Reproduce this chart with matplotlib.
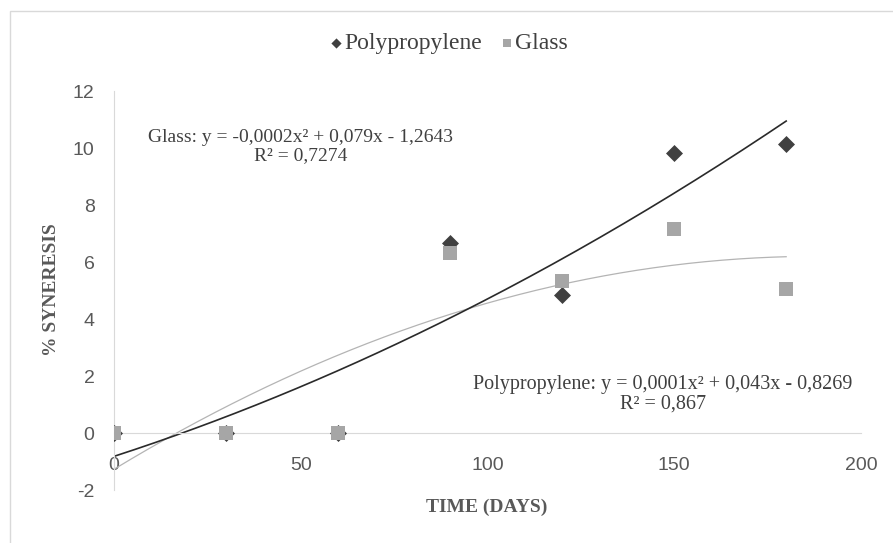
import numpy as np
import matplotlib.pyplot as plt
from matplotlib.patches import Rectangle

# Données
jours = [0, 30, 60, 90, 120, 150, 180]
polypropylene = [0, 0, 0, 6.65, 4.84, 9.82, 10.14]
glass = [0, 0, 0, 6.3, 5.33, 7.16, 5.05]

eq_glass = "Glass: y = -0,0002x² + 0,079x - 1,2643\nR² = 0,7274"
eq_poly = "Polypropylene: y = 0,0001x² + 0,043x - 0,8269\nR² = 0,867"

serif = "Liberation Serif"
plt.rcParams["axes.unicode_minus"] = False

fig = plt.figure(figsize=(8.93, 5.43), dpi=100)
fig.patches.append(Rectangle((10 / 893, -0.1), 1.2, 1 - 11 / 543 + 0.1,
                             transform=fig.transFigure, fill=False,
                             edgecolor="#d9d9d9", linewidth=1))
ax = fig.add_axes([0.1277, 0.0976, 0.8363, 0.7348])

# Courbes de tendance (polynôme d'ordre 2)
xs = np.linspace(0, 180, 200)
c_poly = np.polyfit(jours, polypropylene, 2)
c_glass = np.polyfit(jours, glass, 2)
ax.plot(xs, np.polyval(c_glass, xs), color="#b4b4b4", linewidth=0.9, zorder=2)
ax.plot(xs, np.polyval(c_poly, xs), color="#2a2a2a", linewidth=1.2, zorder=2)

ax.scatter(jours, polypropylene, marker="D", s=75, color="#404040",
           label="Polypropylene", zorder=3, linewidths=0)
ax.scatter(jours, glass, marker="s", s=115, color="#a6a6a6",
           label="Glass", zorder=4, linewidths=0)

ax.set_xlim(0, 200)
ax.set_ylim(-2, 12)
ax.set_xticks([0, 50, 100, 150, 200])
ax.set_yticks(range(-2, 13, 2))

for s in ["top", "right"]:
    ax.spines[s].set_visible(False)
ax.spines["bottom"].set_position(("data", 0))
ax.spines["bottom"].set_color("#d9d9d9")
ax.spines["left"].set_color("#d9d9d9")
ax.tick_params(length=0, labelsize=14, colors="#595959", pad=14)
ax.tick_params(axis="x", pad=17)
for lab in ax.get_xticklabels() + ax.get_yticklabels():
    lab.set_family("Liberation Sans")

ax.text(50, 10.05, eq_glass, ha="center", va="center", fontsize=14,
        family=serif, color="#404040", linespacing=1.05)
ax.text(147, 1.35, eq_poly, ha="center", va="center", fontsize=14.5,
        family=serif, color="#404040", linespacing=1.05)

fig.text(0.545, 0.066, "TIME (DAYS)", ha="center", va="center",
         fontsize=14, family=serif, fontweight="bold", color="#595959")
fig.text(0.058, 0.466, "% SYNERESIS", ha="center", va="center", rotation=90,
         fontsize=14, family=serif, fontweight="bold", color="#595959")

fig.legend(loc="center", bbox_to_anchor=(0.503, 0.92), ncol=2, frameon=False,
           prop={"family": serif, "size": 17}, handlelength=0.5,
           handletextpad=0.1, columnspacing=0.8, markerscale=0.6,
           labelcolor="#404040")

fig.savefig("out.png", dpi=100)
